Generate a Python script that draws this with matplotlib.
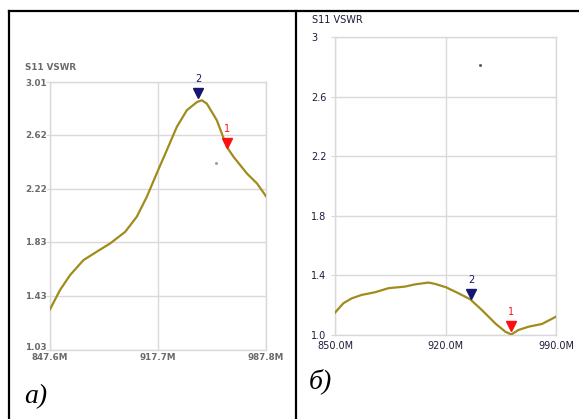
import matplotlib
matplotlib.use("Agg")
import matplotlib.pyplot as plt
from matplotlib.lines import Line2D
from matplotlib.transforms import ScaledTranslation

# ---- Data: panel a ----
freq_a = [847.6, 854.1, 860.6, 869.3, 877.9, 886.6, 896.4, 903.9, 910.4, 917.3,
          923.4, 929.9, 936.4, 943.0, 946.2, 949.4, 955.9, 962.4, 966.8, 975.5,
          982.0, 987.8]
vswr_a = [1.33, 1.473, 1.583, 1.694, 1.756, 1.817, 1.903, 2.014, 2.161, 2.346,
          2.506, 2.678, 2.801, 2.862, 2.875, 2.85, 2.727, 2.53, 2.456, 2.333,
          2.26, 2.166]
xticks_a = [847.6, 917.7, 987.8]
xlabels_a = ["847.6M", "917.7M", "987.8M"]
yticks_a = [1.03, 1.43, 1.83, 2.22, 2.62, 3.01]
ylabels_a = ["1.03", "1.43", "1.83", "2.22", "2.62", "3.01"]
markers_a_freq = [962.5, 943.7]
markers_a_val = [2.515, 2.884]
marker_names = ["1", "2"]
dot_a = (955.4, 2.41)

# ---- Data: panel b ----
freq_b = [850.0, 855.3, 860.6, 866.9, 875.4, 883.8, 894.4, 900.8, 909.2, 913.4,
          920.4, 928.2, 935.6, 943.0, 951.5, 957.9, 961.7, 966.3, 972.7, 981.1,
          990.0]
vswr_b = [1.15, 1.213, 1.246, 1.269, 1.287, 1.314, 1.325, 1.340, 1.352, 1.343,
          1.320, 1.280, 1.240, 1.168, 1.078, 1.022, 1.004, 1.034, 1.056, 1.074,
          1.123]
xticks_b = [850.0, 920.0, 990.0]
xlabels_b = ["850.0M", "920.0M", "990.0M"]
yticks_b = [1.0, 1.4, 1.8, 2.2, 2.6, 3.0]
ylabels_b = ["1.0", "1.4", "1.8", "2.2", "2.6", "3"]
markers_b_freq = [961.7, 936.3]
markers_b_val = [1.016, 1.236]
dot_b = (942.0, 2.81)

curve_color = "#a08c1c"
marker_colors = ["#ff1010", "#161670"]
grid_color = "#d9d9d9"

fig = plt.figure(figsize=(5.79, 4.19), dpi=100)
fig.patch.set_facecolor("white")

def style_axes(ax, xt, xl, yt, yl, xlim, ylim, tcolor, fsize, ypad, xpad, weight):
    ax.set_xlim(*xlim)
    ax.set_ylim(*ylim)
    ax.set_xticks(xt)
    ax.set_xticklabels(xl)
    ax.set_yticks(yt)
    ax.set_yticklabels(yl)
    ax.grid(True, color=grid_color, linewidth=1.0)
    for s in ax.spines.values():
        s.set_color(grid_color)
        s.set_linewidth(1.0)
    ax.tick_params(axis="y", length=3, color=grid_color, pad=ypad,
                   labelsize=fsize, labelcolor=tcolor)
    ax.tick_params(axis="x", length=0, pad=xpad, labelsize=fsize,
                   labelcolor=tcolor)
    for t in ax.get_yticklabels():
        t.set_horizontalalignment("left")
        t.set_fontweight(weight)
    for t in ax.get_xticklabels():
        t.set_fontweight(weight)

def draw_markers(ax, fr, vals):
    off = ScaledTranslation(0, 4.5 / 72, fig.dpi_scale_trans)
    off2 = ScaledTranslation(0, 11 / 72, fig.dpi_scale_trans)
    for f, v, c, n in zip(fr, vals, marker_colors, marker_names):
        ax.plot([f], [v], marker="v", markersize=7.5, color=c, linestyle="none",
                transform=ax.transData + off, clip_on=False, zorder=5)
        ax.text(f, v, n, color=c, fontsize=7, ha="center", va="bottom",
                transform=ax.transData + off2, zorder=5)

# Panel a
ax1 = fig.add_axes([50 / 579, 1 - 350 / 419, 216 / 579, 268 / 419])
ax1.plot(freq_a, vswr_a, color=curve_color, linewidth=1.6, zorder=3)
style_axes(ax1, xticks_a, xlabels_a, yticks_a, ylabels_a,
           (847.6, 987.8), (1.03, 3.01), "#6a6a6a", 6.3, 15, 2.2, "bold")
ax1.get_yticklabels()[0].set_verticalalignment("baseline")
draw_markers(ax1, markers_a_freq, markers_a_val)
ax1.plot([dot_a[0]], [dot_a[1]], marker="s", markersize=1, color="#9a9aa0")
fig.text(25 / 579, 1 - 68 / 419, "S11 VSWR", fontsize=6.3, color="#6a6a6a",
         fontweight="bold", ha="left", va="center")

# Panel b
ax2 = fig.add_axes([335 / 579, 1 - 335 / 419, 221 / 579, 298 / 419])
ax2.plot(freq_b, vswr_b, color=curve_color, linewidth=1.6, zorder=3)
style_axes(ax2, xticks_b, xlabels_b, yticks_b, ylabels_b,
           (850.0, 990.0), (1.0, 3.0), "#1c1c3a", 7, 14, 4.5, "normal")
draw_markers(ax2, markers_b_freq, markers_b_val)
ax2.plot([dot_b[0]], [dot_b[1]], marker="s", markersize=1, color="#555555")
fig.text(312 / 579, 1 - 20 / 419, "S11 VSWR", fontsize=7, color="#1c1c3a",
         ha="left", va="center")

# Panel letters
fig.text(24 / 579, 1 - 397 / 419, "а)", fontsize=20, style="italic",
         family="Liberation Serif", ha="left", va="center")
fig.text(309 / 579, 1 - 381 / 419, "б)", fontsize=20, style="italic",
         family="Liberation Serif", ha="left", va="center")

# Frame lines
lw = 1.6
top_y = 1 - 11 / 419
fig.add_artist(Line2D([8.5 / 579, 1.0], [top_y, top_y], color="black", linewidth=lw))
fig.add_artist(Line2D([8.5 / 579, 8.5 / 579], [0, top_y], color="black", linewidth=lw))
fig.add_artist(Line2D([295.5 / 579, 295.5 / 579], [0, top_y], color="black", linewidth=lw))

fig.savefig("out.png", dpi=100)
